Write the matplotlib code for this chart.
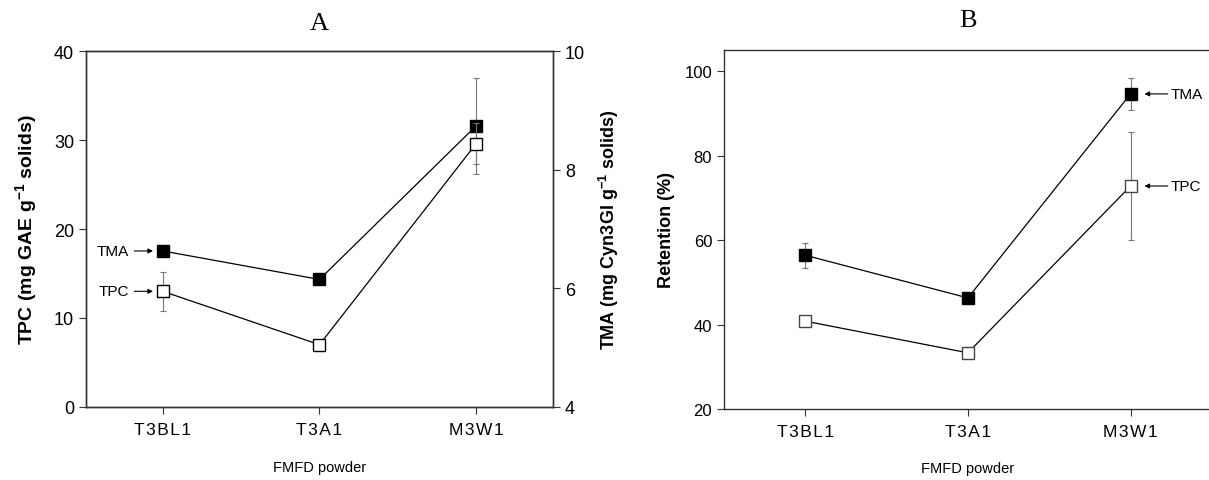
import matplotlib
matplotlib.use("Agg")
import matplotlib.pyplot as plt

# data
powders = ["T3BL1", "T3A1", "M3W1"]

# panel A: TPC on left axis, TMA on right axis
tpc_a = [13.0, 7.0, 29.6]
tpc_a_err = [2.2, 0.4, 2.3]
tma_a = [6.63, 6.15, 8.74]
tma_a_err = [0.0, 0.0, 0.81]

# panel B: retention (%)
tma_ret = [56.4, 46.3, 94.6]
tma_ret_err = [3.0, 0.8, 3.7]
tpc_ret = [40.8, 33.3, 72.8]
tpc_ret_err = [1.0, 1.3, 12.7]

plt.rcParams['font.family'] = ['Liberation Sans', 'DejaVu Sans']
plt.rcParams['mathtext.default'] = 'regular'

fig = plt.figure(figsize=(12.09, 4.81), dpi=100)
ax = fig.add_axes([0.0711, 0.1518, 0.3863, 0.740])
ax2 = ax.twinx()
bx = fig.add_axes([0.5988, 0.1476, 0.4036, 0.7464])

x = list(range(len(powders)))
# tick labels in the figure are slightly letter-spaced
spaced = ["\u200a".join(p) for p in powders]
spine_col = '#333333'
err_col = '#777777'


def style(a):
    for s in a.spines.values():
        s.set_color(spine_col)
        s.set_linewidth(1.0)
    a.tick_params(direction='out', length=5, width=0.8, color=spine_col)


# ---- panel A ----
ax2.errorbar(x, tma_a, yerr=tma_a_err, fmt='none', ecolor=err_col,
             elinewidth=0.8, capsize=2.5, capthick=0.8, zorder=1)
ax2.plot(x, tma_a, color='black', lw=0.9, marker='s', ms=9,
         mfc='black', mec='black', zorder=2)
ax.errorbar(x, tpc_a, yerr=tpc_a_err, fmt='none', ecolor=err_col,
            elinewidth=0.8, capsize=2.5, capthick=0.8, zorder=1)
ax.plot(x, tpc_a, color='black', lw=0.9, marker='s', ms=9,
        mfc='white', mec='black', mew=1.0, zorder=3)
ax.set_zorder(ax2.get_zorder() + 1)
ax.patch.set_visible(False)

ax.set_xlim(-0.49, 2.49)
ax.set_ylim(0, 40)
ax.set_yticks([0, 10, 20, 30, 40])
ax2.set_ylim(4, 10)
ax2.set_yticks([4, 6, 8, 10])
ax.set_xticks(x)
ax.set_xticklabels(spaced, fontsize=12.5)
ax.tick_params(axis='x', pad=6)
ax.tick_params(axis='y', labelsize=13)
ax2.tick_params(axis='y', labelsize=13)
style(ax)
style(ax2)

ax.set_ylabel(r'TPC (mg GAE g$^{-1}$ solids)', fontsize=14, fontweight='bold')
ax.yaxis.set_label_coords(-0.10, 0.5)
ax2.set_ylabel(r'TMA (mg Cyn3Gl g$^{-1}$ solids)', fontsize=13, fontweight='bold')
ax2.yaxis.set_label_coords(1.095, 0.5)
ax.set_xlabel('FMFD powder', fontsize=10.5)
ax.xaxis.set_label_coords(0.5, -0.15)
ax.set_title('A', family='Liberation Serif', fontsize=19, pad=16)

arrow = dict(arrowstyle='-|>', color='black', lw=0.8, mutation_scale=7,
             shrinkA=2, shrinkB=7)
ax2.annotate('TMA', xy=(0, tma_a[0]), xytext=(-34, 0), textcoords='offset pixels',
             ha='right', va='center', fontsize=11, arrowprops=arrow)
ax.annotate('TPC', xy=(0, tpc_a[0]), xytext=(-34, 0), textcoords='offset pixels',
            ha='right', va='center', fontsize=11, arrowprops=arrow)

# ---- panel B ----
bx.errorbar(x, tma_ret, yerr=tma_ret_err, fmt='none', ecolor=err_col,
            elinewidth=0.8, capsize=2.5, capthick=0.8, zorder=1)
bx.plot(x, tma_ret, color='black', lw=0.9, marker='s', ms=9,
        mfc='black', mec='black', zorder=2)
bx.errorbar(x, tpc_ret, yerr=tpc_ret_err, fmt='none', ecolor=err_col,
            elinewidth=0.8, capsize=2.5, capthick=0.8, zorder=1)
bx.plot(x, tpc_ret, color='black', lw=0.9, marker='s', ms=9,
        mfc='white', mec='#444444', mew=1.0, zorder=3)

bx.set_xlim(-0.5, 2.5)
bx.set_ylim(20, 105)
bx.set_yticks([20, 40, 60, 80, 100])
bx.set_xticks(x)
bx.set_xticklabels(spaced, fontsize=12.5)
bx.tick_params(axis='x', pad=6)
bx.tick_params(axis='y', labelsize=12)
style(bx)
bx.set_ylabel('Retention (%)', fontsize=13, fontweight='bold')
bx.yaxis.set_label_coords(-0.10, 0.5)
bx.set_xlabel('FMFD powder', fontsize=10.5)
bx.xaxis.set_label_coords(0.5, -0.145)
bx.set_title('B', family='Liberation Serif', fontsize=19, pad=17)

arrow_b = dict(arrowstyle='-|>', color='black', lw=0.8, mutation_scale=7,
               shrinkA=0, shrinkB=10)
bx.annotate('TMA', xy=(2, tma_ret[2]), xytext=(40, 0), textcoords='offset pixels',
            ha='left', va='center', fontsize=11, arrowprops=arrow_b)
bx.annotate('TPC', xy=(2, tpc_ret[2]), xytext=(40, 0), textcoords='offset pixels',
            ha='left', va='center', fontsize=11, arrowprops=arrow_b)

fig.savefig('out.png', dpi=100)
